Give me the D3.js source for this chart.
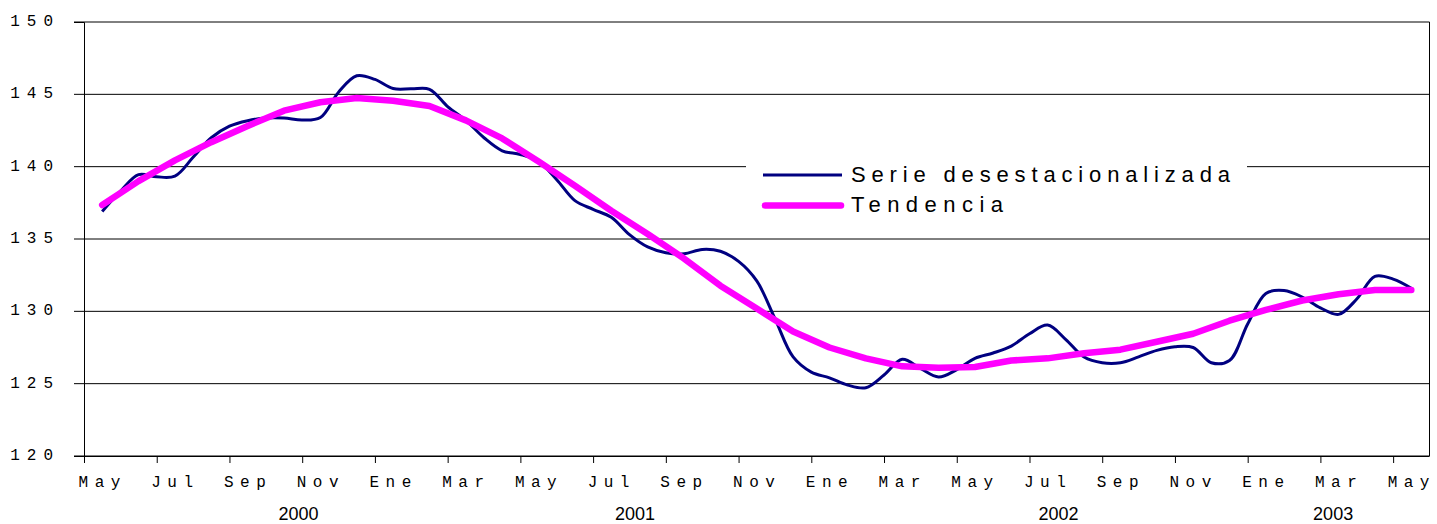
<!DOCTYPE html>
<html>
<head>
<meta charset="utf-8">
<script src="https://cdn.jsdelivr.net/npm/d3@7"></script>
<style>
  body { margin: 0; background: #fff; }
  svg { display: block; }
</style>
</head>
<body>
<svg id="chart" width="1437" height="524"></svg>
<script>
// month labels, one every two months (May 2000 .. May 2003)
const meses = ['May', 'Jul', 'Sep', 'Nov', 'Ene', 'Mar',
  'May', 'Jul', 'Sep', 'Nov', 'Ene', 'Mar',
  'May', 'Jul', 'Sep', 'Nov', 'Ene', 'Mar', 'May'];

const anios = ['2000', '2001', '2002', '2003'];
// where the year labels sit, in months from May 2000
const posAnios = [5.9, 15.15, 26.8, 34.35];

const yTicks = [120, 125, 130, 135, 140, 145, 150];

// seasonally adjusted series, two readings per month
const serie = [
  136.9, 138.3, 139.45, 139.3, 139.35, 140.65, 142.0, 142.8, 143.18, 143.36,
  143.36, 143.22, 143.4, 145.15, 146.28, 146.03, 145.4, 145.38, 145.35, 144.15,
  143.2, 142.0, 141.1, 140.84, 140.35, 139.1, 137.65, 137.05, 136.5, 135.3,
  134.45, 134.05, 133.98, 134.28, 134.15, 133.45, 132.1, 129.5, 126.85, 125.8,
  125.4, 124.9, 124.72, 125.6, 126.68, 126.05, 125.46, 125.97, 126.75, 127.12,
  127.6, 128.45, 129.05, 128.05, 126.84, 126.45, 126.45, 126.85, 127.3, 127.55,
  127.5, 126.45, 126.6, 129.13, 131.24, 131.44, 130.99, 130.24, 129.79, 130.85,
  132.42, 132.23, 131.6
];

// trend, one value per month
const tendencia = [
  137.35, 139.0, 140.43, 141.69, 142.81, 143.87, 144.45, 144.74, 144.56, 144.19,
  143.2, 141.95, 140.35, 138.68, 136.95, 135.35, 133.65, 131.77, 130.2, 128.6,
  127.5, 126.75, 126.2, 126.1, 126.15, 126.6, 126.75, 127.1, 127.35, 127.9,
  128.45, 129.35, 130.1, 130.75, 131.18, 131.48, 131.48
];

const svg = d3.select('#chart');
const plotLeft = 84, plotRight = 1429.5, plotTop = 22, plotBottom = 456;
const monoFont = '"Liberation Mono", "Courier New", monospace';
const sansFont = '"Liberation Sans", Arial, sans-serif';

const x = d3.scaleLinear().domain([0, 37]).range([plotLeft, plotRight]);
const y = d3.scaleLinear().domain([120, 150]).range([plotBottom, plotTop]);

// horizontal grid lines (with the small outside tick)
svg.append('g')
  .selectAll('line')
  .data(yTicks)
  .enter()
  .append('line')
  .attr('x1', plotLeft - 10)
  .attr('x2', plotRight)
  .attr('y1', d => y(d))
  .attr('y2', d => y(d))
  .attr('stroke', '#000')
  .attr('stroke-width', 1);

// right border
svg.append('line')
  .attr('x1', plotRight).attr('x2', plotRight)
  .attr('y1', plotTop).attr('y2', plotBottom)
  .attr('stroke', '#000');

// y axis
const yAxis = svg.append('g')
  .attr('transform', 'translate(' + plotLeft + ',0)')
  .call(d3.axisLeft(y).tickValues(yTicks).tickSize(10).tickFormat(d3.format('d')));
yAxis.select('.domain').attr('stroke', '#000');
yAxis.selectAll('.tick line').remove();
yAxis.selectAll('.tick text')
  .attr('x', -24)
  .attr('dy', 3.5)
  .attr('fill', '#000')
  .style('font-family', monoFont)
  .style('font-size', '16px')
  .style('letter-spacing', '7px');

// x axis: ticks every two months, labels centred in the month
const halfMonth = (x(1) - x(0)) / 2;
const xAxis = svg.append('g')
  .attr('transform', 'translate(0,' + plotBottom + ')')
  .call(d3.axisBottom(x)
    .tickValues(d3.range(0, 37, 2))
    .tickSize(7)
    .tickSizeOuter(0)
    .tickFormat((d, i) => meses[i]));
xAxis.select('.domain').attr('stroke', '#000').attr('d', 'M' + plotLeft + ',0.5H' + plotRight);
xAxis.selectAll('.tick line').attr('stroke', '#000');
xAxis.selectAll('.tick text')
  .attr('x', halfMonth)
  .attr('y', 31)
  .attr('dy', 0)
  .attr('fill', '#000')
  .style('font-family', monoFont)
  .style('font-size', '16px')
  .style('letter-spacing', '6.5px');

// year labels
svg.append('g')
  .selectAll('text')
  .data(anios)
  .enter()
  .append('text')
  .attr('x', (d, i) => x(posAnios[i]))
  .attr('y', 520)
  .attr('text-anchor', 'middle')
  .style('font-family', sansFont)
  .style('font-size', '18px')
  .text(d => d);

// the two lines
const lineaSerie = d3.line()
  .x((d, i) => x(0.5 + i / 2))
  .y(d => y(d))
  .curve(d3.curveCatmullRom.alpha(0.5));

const lineaTendencia = d3.line()
  .x((d, i) => x(0.5 + i))
  .y(d => y(d));

svg.append('path')
  .attr('d', lineaSerie(serie))
  .attr('fill', 'none')
  .attr('stroke', '#000080')
  .attr('stroke-width', 3)
  .attr('stroke-linejoin', 'round');

svg.append('path')
  .attr('d', lineaTendencia(tendencia))
  .attr('fill', 'none')
  .attr('stroke', '#ff00ff')
  .attr('stroke-width', 6.5)
  .attr('stroke-linejoin', 'round')
  .attr('stroke-linecap', 'round');

// legend
const legend = svg.append('g');
legend.append('rect')
  .attr('x', 746)
  .attr('y', 148)
  .attr('width', 501)
  .attr('height', 74)
  .attr('fill', '#fff');

const items = [
  { name: 'Serie desestacionalizada', color: '#000080', width: 3, cap: 'butt', ly: 175, ty: 181.5, end: 1230 },
  { name: 'Tendencia', color: '#ff00ff', width: 6.5, cap: 'round', ly: 205.5, ty: 212, end: 1003 }
];

items.forEach(function (it) {
  legend.append('line')
    .attr('x1', it.cap === 'round' ? 765 : 763)
    .attr('x2', it.cap === 'round' ? 841 : 842)
    .attr('y1', it.ly)
    .attr('y2', it.ly)
    .attr('stroke', it.color)
    .attr('stroke-width', it.width)
    .attr('stroke-linecap', it.cap);

  const t = legend.append('text')
    .attr('x', 851)
    .attr('y', it.ty)
    .style('font-family', sansFont)
    .style('font-size', '22px')
    .text(it.name);

  // spread the letters so the label fills the same width as the original
  const w0 = t.node().getComputedTextLength();
  const ls = (it.end - 851 - w0) / (it.name.length - 1);
  t.style('letter-spacing', ls + 'px');
});
</script>
</body>
</html>
